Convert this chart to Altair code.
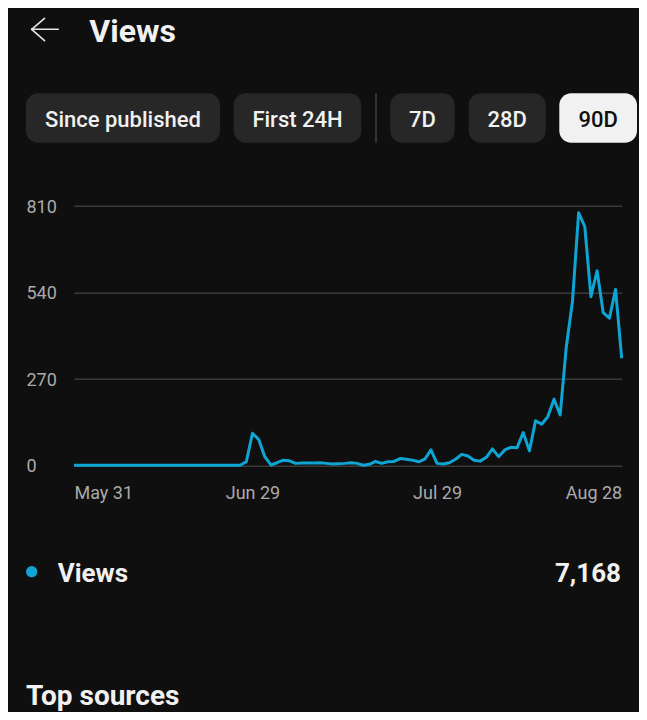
import altair as alt
import pandas as pd

# ---- data -------------------------------------------------------------
dates = pd.date_range("2023-05-31", "2023-08-28", freq="D").strftime("%Y-%m-%d").tolist()
views = [
    0, 0, 0, 0, 0, 0, 0, 0, 0, 0,
    0, 0, 0, 0, 0, 0, 0, 0, 0, 0,
    0, 0, 0, 0, 0, 0, 0, 0, 11, 100,
    81, 27, 1, 8, 16, 14, 6, 7, 7, 7,
    8, 6, 4, 5, 6, 8, 6, 0, 3, 12,
    6, 11, 12, 21, 19, 16, 11, 19, 48, 6,
    4, 8, 19, 34, 29, 16, 13, 25, 51, 27,
    48, 56, 55, 102, 45, 139, 128, 152, 206, 157,
    370, 511, 788, 745, 526, 607, 476, 459, 549, 334,
]
y_ticks = [0, 270, 540, 810]
x_tick_labels = ["May 31", "Jun 29", "Jul 29", "Aug 28"]
buttons = ["Since published", "First 24H", "7D", "28D", "90D"]
total_label = "7,168"
series_name = "Views"

df = pd.DataFrame({"date": dates, "views": views})

BG = "#0f0f0f"
FG = "#f1f1f1"
GRAY = "#aaaaaa"
BTN = "#272727"
BLUE = "#0ea5d4"
FONT = "Roboto"


def one():
    return alt.Chart(pd.DataFrame({"k": [0]}))


# ---- main line chart ------------------------------------------------------
x_values = [
    alt.DateTime(year=2023, month="May", date=31, utc=True),
    alt.DateTime(year=2023, month="Jun", date=29, utc=True),
    alt.DateTime(year=2023, month="Jul", date=29, utc=True),
    alt.DateTime(year=2023, month="Aug", date=28, utc=True),
]

line = alt.Chart(df).mark_line(color=BLUE, strokeWidth=3, strokeJoin="round").encode(
    x=alt.X(
        "date:T",
        scale=alt.Scale(type="utc", nice=False),
        axis=alt.Axis(
            values=x_values,
            format="%b %d",
            title=None,
            grid=False,
            domain=False,
            ticks=False,
            tickSize=0,
            labelFlush=True,
            labelPadding=19,
            labelFont=FONT,
            labelFontSize=18,
            labelColor=GRAY,
        ),
    ),
    y=alt.Y(
        "views:Q",
        scale=alt.Scale(domain=[0, 810], nice=False),
        axis=alt.Axis(
            values=y_ticks,
            title=None,
            grid=True,
            gridColor="#3a3a3a",
            gridWidth=1.5,
            domain=False,
            ticks=False,
            tickSize=0,
            labelAlign="left",
            labelPadding=48,
            labelOffset=1.5,
            labelFont=FONT,
            labelFontSize=18,
            labelColor=GRAY,
        ),
    ),
)

layers = []

# back arrow
arrow_segments = [(-42.3, -176.4, -15.7, -176.4), (-42.3, -176.4, -29.5, -187.4), (-42.3, -176.4, -29.5, -165.0)]
for (a, b, c, d) in arrow_segments:
    layers.append(
        one().mark_rule(color="#e6e6e6", strokeWidth=1.6, strokeCap="round").encode(
            x=alt.value(a), y=alt.value(b), x2=alt.value(c), y2=alt.value(d)
        )
    )

# title
layers.append(
    one().mark_text(text="Views", font=FONT, fontSize=32, fontWeight="bold", color=FG,
                    align="left", baseline="alphabetic").encode(x=alt.value(15.3), y=alt.value(-163.4))
)

# buttons
btn_boxes = [(-48, 146), (159.7, 287.3), (316.3, 380.7), (394.7, 471.7), (485.3, 563)]
for i, (lbl, (x0, x1)) in enumerate(zip(buttons, btn_boxes)):
    selected = i == len(buttons) - 1
    layers.append(
        one().mark_rect(color="#f1f1f1" if selected else BTN, cornerRadius=12).encode(
            x=alt.value(x0), x2=alt.value(x1), y=alt.value(-112.4), y2=alt.value(-63)
        )
    )
    layers.append(
        one().mark_text(text=lbl, font=FONT, fontSize=22, fontWeight=500,
                        color="#0f0f0f" if selected else FG,
                        align="center", baseline="alphabetic").encode(
            x=alt.value((x0 + x1) / 2), y=alt.value(-79)
        )
    )

# separator
layers.append(
    one().mark_rule(color="#3f3f3f", strokeWidth=1.5).encode(
        x=alt.value(302), y=alt.value(-112.4), y2=alt.value(-63)
    )
)

# legend row
layers.append(
    one().mark_point(shape="circle", filled=True, size=127, color=BLUE, opacity=1).encode(
        x=alt.value(-42.3), y=alt.value(366)
    )
)
layers.append(
    one().mark_text(text=series_name, font=FONT, fontSize=26, fontWeight="bold", color=FG,
                    align="left", baseline="alphabetic").encode(x=alt.value(-16.3), y=alt.value(376))
)
layers.append(
    one().mark_text(text=total_label, font=FONT, fontSize=26, fontWeight="bold", color=FG,
                    align="right", baseline="alphabetic").encode(x=alt.value(547), y=alt.value(376))
)
layers.append(
    one().mark_text(text="Top sources", font=FONT, fontSize=28, fontWeight="bold", color=FG,
                    align="left", baseline="alphabetic").encode(x=alt.value(-48), y=alt.value(499.5))
)

chart = alt.layer(line, *layers).properties(
    width=547.7,
    height=259.6,
    padding={"left": 66, "top": 197.7, "right": 17.3, "bottom": 246.7},
    autosize=alt.AutoSizeParams(type="none"),
    background=BG,
).configure_view(stroke=None)

chart.save("out.html", embed_options={"renderer": "svg", "actions": False})
